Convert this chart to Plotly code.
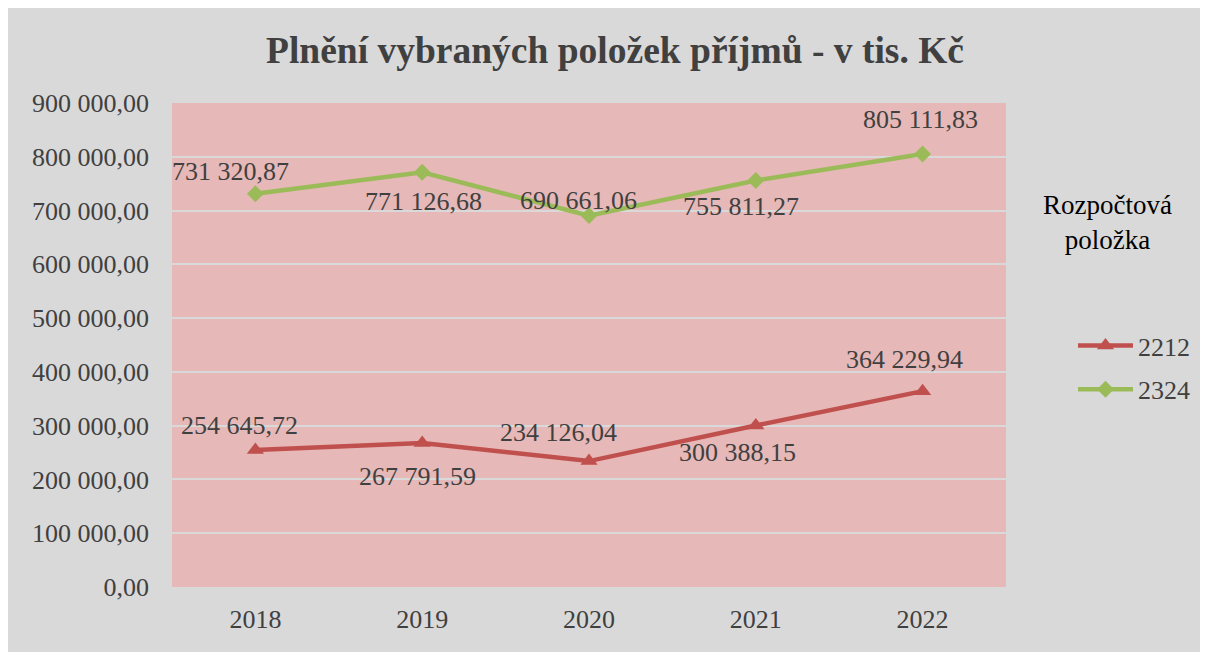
import plotly.graph_objects as go

years = ["2018", "2019", "2020", "2021", "2022"]
s2212 = [254645.72, 267791.59, 234126.04, 300388.15, 364229.94]
s2324 = [731320.87, 771126.68, 690661.06, 755811.27, 805111.83]
labels_2212 = ["254 645,72", "267 791,59", "234 126,04", "300 388,15", "364 229,94"]
labels_2324 = ["731 320,87", "771 126,68", "690 661,06", "755 811,27", "805 111,83"]
y_tickvals = [0, 100000, 200000, 300000, 400000, 500000, 600000, 700000, 800000, 900000]
y_ticktext = ["0,00", "100 000,00", "200 000,00", "300 000,00", "400 000,00",
              "500 000,00", "600 000,00", "700 000,00", "800 000,00", "900 000,00"]

# label offsets (pixels, dx right, dy down) relative to each point
off_2212 = [(-16, -25), (-5, 34), (-31, -29), (-18, 27), (-18, -32)]
off_2324 = [(-25, -22), (1, 29), (-11, -15), (-15, 26), (-2, -35)]

FONT = "Liberation Serif, Times New Roman, serif"
RED = "#c0504d"
GREEN = "#9bbb59"
TXT = "#404040"

W, H = 1208, 652
L, T = 164, 95
PW, PH = 834, 484
R, B = W - L - PW, H - T - PH


def px_x(p):
    return (p - L) / PW


def px_y(p):
    return (T + PH - p) / PH


fig = go.Figure()
fig.add_trace(go.Scatter(
    x=years, y=s2212, name="2212", mode="lines+markers",
    line=dict(color=RED, width=4.5),
    marker=dict(symbol="triangle-up", size=15, color=RED),
    legendgroup="a",
))
fig.add_trace(go.Scatter(
    x=years, y=s2324, name="2324", mode="lines+markers",
    line=dict(color=GREEN, width=4.5),
    marker=dict(symbol="diamond", size=13, color=GREEN),
    legendgroup="b",
))

annotations = []
for ys, labs, offs in ((s2212, labels_2212, off_2212),
                       (s2324, labels_2324, off_2324)):
    for i, (yv, lab, (dx, dy)) in enumerate(zip(ys, labs, offs)):
        annotations.append(dict(
            x=i, y=yv, xref="x", yref="y", text=lab, showarrow=False,
            xshift=dx, yshift=-dy, font=dict(family=FONT, size=26, color=TXT),
            xanchor="center", yanchor="middle",
        ))

annotations.append(dict(
    x=px_x(1099), y=px_y(214), xref="paper", yref="paper", text="Rozpočtová<br>položka",
    showarrow=False, font=dict(family=FONT, size=27, color="#000000"),
    align="center", xanchor="center", yanchor="middle",
))

fig.update_layout(
    width=W, height=H,
    margin=dict(l=L, r=R, t=T, b=B),
    paper_bgcolor="#d9d9d9",
    plot_bgcolor="#e6b8b7",
    title=dict(text="<b>Plnění vybraných položek příjmů - v tis. Kč</b>",
               x=(607 - L) / PW, xref="paper", xanchor="center",
               y=1 - 42 / H, yanchor="middle",
               font=dict(family=FONT, size=37.5, color=TXT)),
    font=dict(family=FONT, size=26, color=TXT),
    xaxis=dict(type="category", range=[-0.5, 4.5], showgrid=False, zeroline=False,
               showline=False, ticks="", ticklabelstandoff=14,
               tickfont=dict(family=FONT, size=26, color=TXT)),
    yaxis=dict(range=[0, 900000], tickvals=y_tickvals, ticktext=y_ticktext,
               showgrid=True, gridcolor="#d9d9d9", gridwidth=2, zeroline=False,
               showline=False, ticks="", ticklabelstandoff=22,
               tickfont=dict(family=FONT, size=26, color=TXT)),
    legend=dict(x=px_x(1065), xanchor="left", y=px_y(314), yanchor="top",
                bgcolor="rgba(0,0,0,0)", tracegroupgap=7, itemwidth=55,
                font=dict(family=FONT, size=26, color=TXT)),
    annotations=annotations,
    showlegend=True,
)

fig.write_html("out.html")
